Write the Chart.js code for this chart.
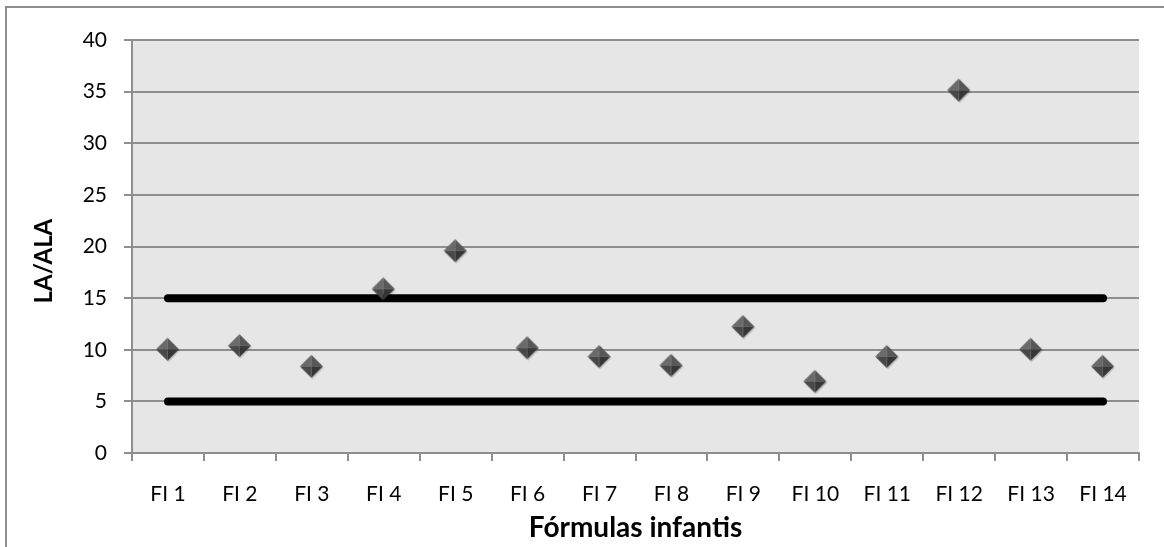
<!DOCTYPE html>
<html>
<head>
<meta charset="utf-8">
<script src="https://cdn.jsdelivr.net/npm/chart.js@4/dist/chart.umd.min.js"></script>
<style>
  html, body { margin: 0; padding: 0; background: #fff; overflow: hidden; }
  #wrap { position: relative; width: 1164px; height: 547px; }
  #frame { position: absolute; left: 5px; top: 6px; width: 1200px; height: 600px; border: 2px solid #8e8e8e; pointer-events: none; }
</style>
</head>
<body>
<div id="wrap">
  <div id="frame"></div>
  <canvas id="chart"></canvas>
</div>
<script>
// chart data
var categories = ['FI 1','FI 2','FI 3','FI 4','FI 5','FI 6','FI 7','FI 8','FI 9','FI 10','FI 11','FI 12','FI 13','FI 14'];
var laAlaValues = [10.0, 10.35, 8.35, 15.85, 19.55, 10.15, 9.3, 8.45, 12.2, 6.9, 9.3, 35.1, 10.0, 8.35];
var lowerLimit = 5;
var upperLimit = 15;
var yTicks = { min: 0, max: 40, step: 5 };

// pyramid-looking diamond marker, like the old Excel one
function makeMarker() {
  var c = document.createElement('canvas');
  c.width = 28; c.height = 28;
  var g = c.getContext('2d');
  var cx = 13.5, cy = 13.5, r = 11.5;
  // soft shadow
  g.fillStyle = 'rgba(0,0,0,0.16)';
  g.beginPath();
  g.moveTo(cx + 1, cy + 1.5 - r); g.lineTo(cx + 1 + r, cy + 1.5); g.lineTo(cx + 1, cy + 1.5 + r); g.lineTo(cx + 1 - r, cy + 1.5);
  g.closePath(); g.fill();
  var T = [cx, cy - r], R = [cx + r, cy], B = [cx, cy + r], L = [cx - r, cy];
  var faces = [[L, T, '#6a6a6a'], [T, R, '#575757'], [R, B, '#363636'], [B, L, '#484848']];
  faces.forEach(function(f) {
    g.fillStyle = f[2];
    g.beginPath();
    g.moveTo(f[0][0], f[0][1]); g.lineTo(f[1][0], f[1][1]); g.lineTo(cx, cy);
    g.closePath(); g.fill();
  });
  return c;
}

var plotBg = {
  id: 'plotBg',
  beforeDraw: function(chart) {
    var a = chart.chartArea, ctx = chart.ctx;
    ctx.save();
    ctx.fillStyle = '#e6e6e6';
    ctx.fillRect(a.left, a.top, a.right - a.left, a.bottom - a.top);
    ctx.restore();
  }
};

var gridGray = '#8e8e8e';

new Chart(document.getElementById('chart'), {
  type: 'line',
  data: {
    labels: categories,
    datasets: [
      {
        label: 'LA/ALA',
        data: laAlaValues,
        showLine: false,
        pointStyle: makeMarker(),
        order: 0
      },
      {
        label: 'max',
        data: categories.map(function() { return upperLimit; }),
        borderColor: '#000',
        borderWidth: 8,
        borderCapStyle: 'round',
        pointRadius: 0,
        order: 1
      },
      {
        label: 'min',
        data: categories.map(function() { return lowerLimit; }),
        borderColor: '#000',
        borderWidth: 8,
        borderCapStyle: 'round',
        pointRadius: 0,
        order: 1
      }
    ]
  },
  options: {
    responsive: true,
    maintainAspectRatio: false,
    animation: false,
    layout: { padding: { top: 40, right: 25, left: 0, bottom: 2 } },
    plugins: { legend: { display: false }, tooltip: { enabled: false } },
    scales: {
      x: {
        offset: true,
        grid: { offset: true, drawOnChartArea: false, drawTicks: true, tickLength: 8, color: gridGray, lineWidth: 2 },
        border: { color: gridGray, width: 2 },
        ticks: { color: '#000', font: { family: 'Lato', size: 21 }, padding: 21, maxRotation: 0, autoSkip: false },
        title: { display: true, text: 'Fórmulas infantis', color: '#000', font: { family: 'Lato', size: 28, weight: 'bold' }, padding: { top: 0, bottom: 0 } },
        afterFit: function(s) { s.height = 92; }
      },
      y: {
        min: yTicks.min,
        max: yTicks.max,
        grid: { color: gridGray, lineWidth: 2, tickLength: 8 },
        border: { color: gridGray, width: 2 },
        ticks: { stepSize: yTicks.step, color: '#000', font: { family: 'Lato', size: 21 }, padding: 17 },
        // trailing spaces nudge the rotated title a little lower, as in the original
        title: { display: true, text: 'LA/ALA     ', color: '#000', font: { family: 'Lato', size: 24, weight: 'bold' }, padding: { top: 30, bottom: 0 } },
        afterFit: function(s) { s.width = 132; }
      }
    }
  },
  plugins: [plotBg]
});
</script>
</body>
</html>
